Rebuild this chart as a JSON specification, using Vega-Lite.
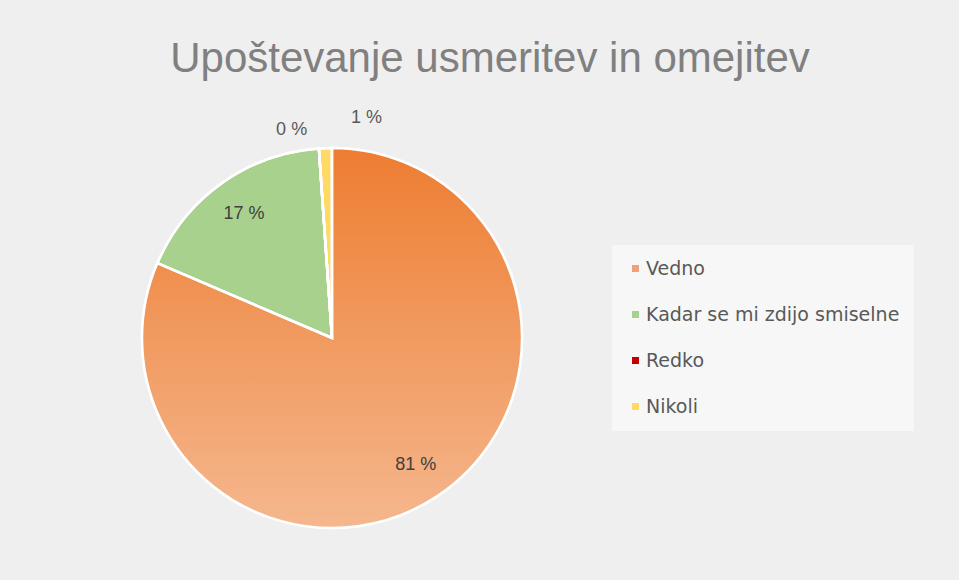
{
  "$schema": "https://vega.github.io/schema/vega-lite/v6.json",
  "width": 380,
  "height": 380,
  "autosize": {"type": "none"},
  "padding": {"left": 142, "top": 148, "right": 437, "bottom": 52},
  "background": "#efefef",
  "title": {
    "text": "Upoštevanje usmeritev in omejitev",
    "font": "Liberation Sans",
    "fontSize": 42,
    "fontWeight": "normal",
    "color": "#808080",
    "anchor": "middle",
    "dx": 158,
    "offset": 28
  },
  "data": {
    "values": [
      {"kategorija": "Vedno", "delez": 81.45, "red": 1, "oznaka": "81 %"},
      {"kategorija": "Kadar se mi zdijo smiselne", "delez": 17.45, "red": 2, "oznaka": "17 %"},
      {"kategorija": "Redko", "delez": 0, "red": 3, "oznaka": "0 %"},
      {"kategorija": "Nikoli", "delez": 1.1, "red": 4, "oznaka": "1 %"}
    ]
  },
  "encoding": {
    "theta": {"field": "delez", "type": "quantitative", "stack": true},
    "order": {"field": "red", "type": "quantitative"}
  },
  "layer": [
    {
      "mark": {"type": "arc", "stroke": "#ffffff", "strokeWidth": 2.5},
      "encoding": {
        "color": {
          "field": "kategorija",
          "type": "nominal",
          "scale": {
            "domain": ["Vedno", "Kadar se mi zdijo smiselne", "Redko", "Nikoli"],
            "range": ["#f0a07a", "#a9d18e", "#c00000", "#ffd966"]
          },
          "legend": {
            "orient": "none",
            "legendX": 470,
            "legendY": 97,
            "title": null,
            "fillColor": "#f7f7f7",
            "padding": 14,
            "rowPadding": 26,
            "symbolType": "square",
            "symbolSize": 49,
            "symbolStrokeWidth": 0,
            "labelFont": "DejaVu Sans",
            "labelFontSize": 19,
            "labelColor": "#595959",
            "labelOffset": 1,
            "labelLimit": 400
          }
        }
      }
    },
    {
      "mark": {"type": "arc", "stroke": "#ffffff", "strokeWidth": 2.5},
      "encoding": {
        "detail": {"field": "kategorija", "type": "nominal"},
        "fill": {
          "condition": [
            {
              "test": "datum.kategorija === 'Vedno'",
              "value": {
                "gradient": "linear",
                "x1": 0, "y1": 0, "x2": 0, "y2": 1,
                "stops": [
                  {"offset": 0, "color": "#ed7d31"},
                  {"offset": 0.5, "color": "#f19a60"},
                  {"offset": 1, "color": "#f5b78e"}
                ]
              }
            }
          ],
          "value": null
        }
      }
    },
    {
      "mark": {"type": "text", "radius": 152, "font": "Liberation Sans", "fontSize": 18, "color": "#404040"},
      "encoding": {
        "detail": {"field": "kategorija", "type": "nominal"},
        "text": {"condition": {"test": "datum.red <= 2", "field": "oznaka"}, "value": ""}
      }
    },
    {
      "mark": {"type": "text", "radius": 208, "dx": -26, "font": "Liberation Sans", "fontSize": 18, "color": "#595959"},
      "encoding": {
        "detail": {"field": "kategorija", "type": "nominal"},
        "text": {"condition": {"test": "datum.red === 3", "field": "oznaka"}, "value": ""}
      }
    },
    {
      "mark": {"type": "text", "radius": 220, "dx": 42, "font": "Liberation Sans", "fontSize": 18, "color": "#595959"},
      "encoding": {
        "detail": {"field": "kategorija", "type": "nominal"},
        "text": {"condition": {"test": "datum.red === 4", "field": "oznaka"}, "value": ""}
      }
    }
  ],
  "config": {"view": {"stroke": null}}
}
